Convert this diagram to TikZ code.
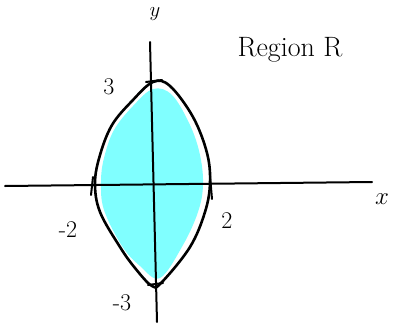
\documentclass[tikz,border=0pt]{standalone}
\usetikzlibrary{calc}
\definecolor{regioncyan}{HTML}{80FFFF}
\tikzset{
  axisline/.style={line width=2pt, line cap=round},
  curveline/.style={line width=2.6pt, line join=round},
  tickline/.style={line width=2pt, line cap=round},
  lbl/.style={font=\fontsize{24}{26}\selectfont, inner sep=0pt}
}
\begin{document}
\begin{tikzpicture}[x=1pt,y=-1pt]
\useasboundingbox (0,0) rectangle (396,324);
% fill of region
\fill[regioncyan] plot[smooth cycle, tension=0.6] coordinates {
  (153,89) (172,95) (190,125) (200,155) (203,185) (198,212) (183,245)
  (160,278) (140,266) (122,246) (104,210) (101,182) (104,158) (114,130) (133,106)};
% axes
\coordinate (xl) at (5,186);
\coordinate (xr) at (372,182);
\coordinate (yt) at (150,42);
\coordinate (yb) at (157,322);
\draw[axisline] (xl) -- (xr);
\draw[axisline] (yt) -- (yb);
% region boundary
\draw[curveline] plot[smooth cycle, tension=0.6] coordinates {
  (153,82) (170,86) (193,117) (207,153) (210,183) (205,212) (190,247)
  (162,282) (152,286) (135,268) (120,247) (100,212) (95,183) (100,155) (112,125) (132,101)};
% ticks
\coordinate (tl1) at (93,177); \coordinate (tl2) at (91,195);
\coordinate (tr1) at (210,176); \coordinate (tr2) at (212,199);
\coordinate (tt1) at (146,82); \coordinate (tt2) at (162,80);
\coordinate (tb1) at (148,285); \coordinate (tb2) at (163,283);
\draw[tickline] (tl1) -- (tl2);
\draw[tickline] (tr1) -- (tr2);
\draw[tickline] (tt1) -- (tt2);
\draw[tickline] (tb1) -- (tb2);
% labels
\node[lbl, font=\fontsize{20}{22}\selectfont] (ylab) at (155,14) {$y$};
\node[lbl] (xlab) at (382,199) {$x$};
\node[lbl] (l3) at (109,87) {3};
\node[lbl] (lm2) at (68,230) {-2};
\node[lbl] (l2) at (227,221) {2};
\node[lbl] (lm3) at (122,303) {-3};
\node[lbl, font=\fontsize{28}{30}\selectfont] (reg) at (290,50) {Region R};
\end{tikzpicture}
\end{document}
